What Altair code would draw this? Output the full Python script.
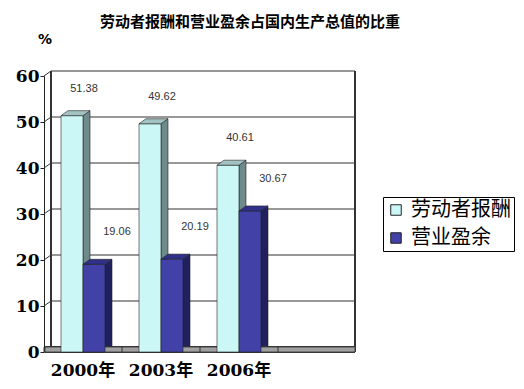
import altair as alt
import pandas as pd

years = ["2000年", "2003年", "2006年"]
slots = years + [" "]
series = ["劳动者报酬", "营业盈余"]
labor = [51.38, 49.62, 40.61]
surplus = [19.06, 20.19, 30.67]
y_ticks = [0, 10, 20, 30, 40, 50, 60]
title_text = "劳动者报酬和营业盈余占国内生产总值的比重"
unit_text = "%"

rows = []
for i, yr in enumerate(years):
    rows.append({"year": yr, "series": series[0], "value": labor[i], "label": f"{labor[i]:.2f}"})
    rows.append({"year": yr, "series": series[1], "value": surplus[i], "label": f"{surplus[i]:.2f}"})
df = pd.DataFrame(rows)
grid_df = pd.DataFrame({"tick": y_ticks})
slot_df = pd.DataFrame({"slot": slots})
text_df = pd.DataFrame({"t": [title_text], "u": [unit_text]})

W, H = 312, 276
light_front, light_top, light_side = "#ccf7f7", "#a3c2c2", "#6f8a8a"
dark_front, dark_top, dark_side = "#4141a8", "#30308a", "#20205e"

x_scale = alt.Scale(domain=slots, paddingInner=0, paddingOuter=0)
xo_scale = alt.Scale(domain=series, paddingInner=0, paddingOuter=0.773)
y_scale = alt.Scale(domain=[0, 60], nice=False, zero=True)

x_axis = alt.Axis(title=None, domain=False, ticks=False, labelAngle=0,
                  labelFont="DejaVu Serif, Noto Sans CJK SC", labelFontWeight="bold",
                  labelFontSize=17, labelPadding=10, labelColor="black", labelOverlap=False)
y_axis = alt.Axis(values=y_ticks, title=None, grid=False, domain=True, domainColor="#222",
                  ticks=True, tickSize=4, tickColor="#222", labelFont="DejaVu Serif",
                  labelFontWeight="bold", labelFontSize=17, labelColor="black", labelPadding=1)

X = alt.X("year:N", scale=x_scale, axis=x_axis, sort=slots)
XO = alt.XOffset("series:N", scale=xo_scale, sort=series)
Y = alt.Y("value:Q", scale=y_scale, axis=y_axis)

# back wall grid lines
grid = alt.Chart(grid_df).mark_rule(color="#333", strokeWidth=1, yOffset=-5).encode(
    x=alt.value(7), x2=alt.value(W - 1), y=alt.Y("tick:Q", scale=y_scale, axis=y_axis))
diag = alt.Chart(grid_df).mark_rule(color="#333", strokeWidth=1, y2Offset=-5).encode(
    x=alt.value(0), x2=alt.value(7), y=alt.Y("tick:Q", scale=y_scale, axis=y_axis), y2="tick:Q")
wall_left = alt.Chart(grid_df).mark_rule(color="#333", strokeWidth=1, yOffset=-5, y2Offset=-5).encode(
    x=alt.value(7), y=alt.YDatum(60, scale=y_scale, axis=y_axis), y2=alt.Y2Datum(0))
wall_right = alt.Chart(grid_df).mark_rule(color="#333", strokeWidth=1, yOffset=-5, y2Offset=-5).encode(
    x=alt.value(W - 1), y=alt.YDatum(60, scale=y_scale, axis=y_axis), y2=alt.Y2Datum(0))

side_path = "M1,0 L1.636,-0.4545 L1.636,40 L1,40 Z"
top_path = "M-1,0 L1,0 L1.636,-0.4545 L-0.364,-0.4545 Z"
is_labor = alt.datum.series == series[0]

sides = alt.Chart(df).mark_point(shape=side_path, size=484, filled=True, opacity=1, clip=True,
                                 stroke="#222", strokeWidth=0.6).encode(
    x=X, xOffset=XO, y=Y, fill=alt.condition(is_labor, alt.value(light_side), alt.value(dark_side)))

floor = alt.Chart(grid_df).mark_rect(fill="#a0a0a0", stroke="#333", strokeWidth=0.8, y2Offset=-5).encode(
    x=alt.value(1), x2=alt.value(W - 1), y=alt.YDatum(0, scale=y_scale, axis=y_axis), y2=alt.Y2Datum(0))
dividers = alt.Chart(slot_df).mark_rule(color="#333", strokeWidth=1, y2Offset=-5).encode(
    x=alt.X("slot:N", bandPosition=0, scale=x_scale, axis=x_axis, sort=slots),
    y=alt.YDatum(0, scale=y_scale, axis=y_axis), y2=alt.Y2Datum(0))

fronts = alt.Chart(df).mark_bar(stroke="#222", strokeWidth=0.6).encode(
    x=X, xOffset=XO, y=Y,
    color=alt.Color("series:N", sort=series, scale=alt.Scale(domain=series, range=[light_front, dark_front]),
                    legend=alt.Legend(orient="none", legendX=339, legendY=121, title=None,
                                      fillColor="white", strokeColor="black", padding=3,
                                      symbolType="square", symbolSize=110, symbolStrokeColor="#222",
                                      symbolStrokeWidth=1, symbolOpacity=1,
                                      labelFont="Noto Sans CJK SC", labelFontSize=20,
                                      labelColor="black", rowPadding=8, labelOffset=5, labelLimit=300)))

tops = alt.Chart(df).mark_point(shape=top_path, size=484, filled=True, opacity=1,
                                stroke="#222", strokeWidth=0.6).encode(
    x=X, xOffset=XO, y=Y, fill=alt.condition(is_labor, alt.value(light_top), alt.value(dark_top)))

lab1 = alt.Chart(df).transform_filter(is_labor).mark_text(
    dx=12, dy=-27, font="Liberation Sans", fontSize=11, color="#333").encode(
    x=X, xOffset=XO, y=Y, text="label:N")
lab2 = alt.Chart(df).transform_filter(alt.datum.series == series[1]).mark_text(
    dx=23, dy=-32, font="Liberation Sans", fontSize=11, color="#333").encode(
    x=X, xOffset=XO, y=Y, text="label:N")

title = alt.Chart(text_df).mark_text(font="Noto Sans CJK SC", fontSize=15, fontWeight="bold",
                                     color="black").encode(
    x=alt.value(206), y=alt.value(-54), text="t:N")
unit = alt.Chart(text_df).mark_text(font="DejaVu Sans", fontSize=14, fontWeight="bold",
                                    color="black").encode(
    x=alt.value(1), y=alt.value(-36), text="u:N")

chart = alt.layer(grid, diag, wall_left, wall_right, sides, floor, dividers, fronts, tops,
                  lab1, lab2, title, unit).properties(
    width=W, height=H,
    padding={"left": 36, "top": 68, "right": 160, "bottom": 29},
    autosize=alt.AutoSizeParams(type="none"),
).configure_view(stroke=None)

chart.save("out.html", embed_options={"renderer": "svg", "actions": False})
